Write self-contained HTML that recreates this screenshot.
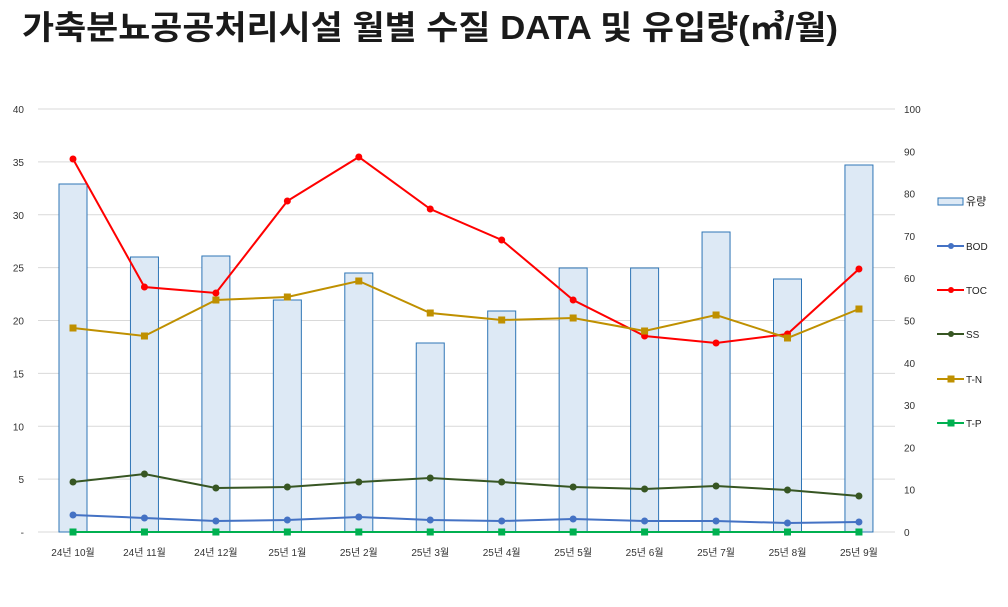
<!DOCTYPE html>
<html><head><meta charset="utf-8"><style>
body{margin:0;background:#fff;width:1008px;height:602px;overflow:hidden}
svg text{font-family:"Liberation Sans","Noto Sans CJK KR",sans-serif}
</style></head><body>
<svg id="s" width="1008" height="602" xmlns="http://www.w3.org/2000/svg">
<text x="22" y="39" font-size="33" font-weight="bold" fill="#1a1a1a" textLength="816" lengthAdjust="spacingAndGlyphs">가축분뇨공공처리시설 월별 수질 DATA 및 유입량(㎥/월)</text>
</svg>
<script>
const s=document.getElementById('s');const NS='http://www.w3.org/2000/svg';
function el(t,a,txt){const e=document.createElementNS(NS,t);for(const k in a)e.setAttribute(k,a[k]);if(txt!==undefined)e.textContent=txt;s.appendChild(e);return e;}
const y0=532,pu=10.575,L=38,R=895;
for(let i=0;i<=8;i++){const y=y0-i*5*pu;el('line',{x1:L,x2:R,y1:y,y2:y,stroke:'#d9d9d9','stroke-width':1});
el('text',{x:24,y:y+4,'font-size':10,'text-anchor':'end',fill:'#333'},i==0?'-':String(i*5));}
for(let i=0;i<=10;i++){const y=y0-i*42.3;el('text',{x:904,y:y+4,'font-size':10,fill:'#333'},String(i*10));}
const lab=['24년 10월','24년 11월','24년 12월','25년 1월','25년 2월','25년 3월','25년 4월','25년 5월','25년 6월','25년 7월','25년 8월','25년 9월'];
const xs=lab.map((_,i)=>73+i*71.45);
const bars=[184,257,256,300,273,343,311,268,268,232,279,165];
xs.forEach((x,i)=>{el('rect',{x:x-14,y:bars[i],width:28,height:y0-bars[i],fill:'#dde9f5',stroke:'#2e75b6','stroke-width':1});
el('text',{x:x,y:556,'font-size':10,'text-anchor':'middle',fill:'#333'},lab[i]);});
const ser=[
['#4472c4','c',[515,518,521,520,517,520,521,519,521,521,523,522]],
['#ff0000','c',[159,287,293,201,157,209,240,300,336,343,334,269]],
['#375623','c',[482,474,488,487,482,478,482,487,489,486,490,496]],
['#bf9000','s',[328,336,300,297,281,313,320,318,331,315,338,309]],
['#00b050','s',[532,532,532,532,532,532,532,532,532,532,532,532]]];
ser.forEach(([c,m,v])=>{el('polyline',{points:v.map((y,i)=>xs[i]+','+y).join(' '),fill:'none',stroke:c,'stroke-width':2});
v.forEach((y,i)=>{if(m=='c')el('circle',{cx:xs[i],cy:y,r:3.5,fill:c});else el('rect',{x:xs[i]-3.5,y:y-3.5,width:7,height:7,fill:c});});});
el('rect',{x:938,y:198,width:25,height:7,fill:'#dde9f5',stroke:'#2e75b6'});el('text',{x:966,y:205,'font-size':11,fill:'#222'},'유량');
const lg=[['BOD',246,'#4472c4','c'],['TOC',290,'#ff0000','c'],['SS',334,'#375623','c'],['T-N',379,'#bf9000','s'],['T-P',423,'#00b050','s']];
lg.forEach(([t,y,c,m])=>{el('line',{x1:937,x2:964,y1:y,y2:y,stroke:c,'stroke-width':2});
if(m=='c')el('circle',{cx:951,cy:y,r:3,fill:c});else el('rect',{x:947.5,y:y-3.5,width:7,height:7,fill:c});
el('text',{x:966,y:y+4,'font-size':10,fill:'#222'},t);});
</script>
</body></html>
